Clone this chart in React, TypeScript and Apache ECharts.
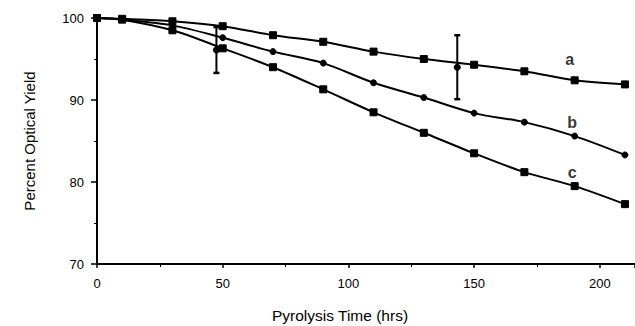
import React, { useEffect, useRef } from "react";
import * as echarts from "echarts";

const times = [0, 10, 30, 50, 70, 90, 110, 130, 150, 170, 190, 210];
const seriesA = [100, 99.9, 99.6, 99.0, 97.9, 97.1, 95.9, 95.0, 94.3, 93.5, 92.4, 91.9];
const seriesB = [100, 99.8, 99.1, 97.6, 95.9, 94.5, 92.1, 90.3, 88.4, 87.3, 85.6, 83.3];
const seriesC = [100, 99.8, 98.5, 96.3, 94.0, 91.3, 88.5, 86.0, 83.5, 81.2, 79.5, 77.3];
// [time, value, half-range]
const errorBars = [
  [47.5, 96.1, 2.8],
  [143.3, 94.0, 3.9],
];
// curve labels [time, value, text]
const curveLabels = [
  [188, 94.9, "a"],
  [189, 87.3, "b"],
  [189, 81.2, "c"],
];
const xTicks = { min: 0, max: 214, interval: 50 };
const yTicks = { min: 70, max: 100, interval: 10 };
const xTitle = "Pyrolysis Time (hrs)";
const yTitle = "Percent Optical Yield";

const FONT = "Liberation Sans, Arial, sans-serif";

export default function App() {
  const ref = useRef<HTMLDivElement>(null);
  useEffect(() => {
    if (!ref.current) return;
    document.body.style.margin = "0";
    const chart = echarts.init(ref.current, undefined, { renderer: "svg" });
    const mk = (vals: number[]) => times.map((t, i) => [t, vals[i]]);
    const lineSeries = (name: string, vals: number[], symbol: string, size: number) => ({
      name,
      type: "line",
      data: mk(vals),
      smooth: 0.3,
      symbol,
      symbolSize: size,
      showSymbol: true,
      lineStyle: { color: "#000", width: 2 },
      itemStyle: { color: "#000", borderColor: "#000" },
      z: 3,
    });
    chart.setOption({
      animation: false,
      backgroundColor: "#fff",
      grid: { left: 97, right: 0, top: 18, bottom: 62, containLabel: false },
      graphic: [
        {
          type: "text",
          left: 272,
          top: 307,
          style: { text: xTitle, fill: "#000", fontSize: 15.5, fontFamily: FONT },
        },
      ],
      xAxis: {
        type: "value",
        min: xTicks.min,
        max: xTicks.max,
        interval: xTicks.interval,
        axisLine: { lineStyle: { color: "#000", width: 2 } },
        axisTick: { show: true, length: 4, lineStyle: { color: "#000", width: 1.5 } },
        minorTick: { show: true, splitNumber: 2, length: 3, lineStyle: { color: "#000" } },
        splitLine: { show: false },
        axisLabel: {
          color: "#000",
          fontSize: 13,
          fontFamily: FONT,
          margin: 13,
          showMaxLabel: false,
        },
      },
      yAxis: {
        type: "value",
        min: yTicks.min,
        max: yTicks.max,
        interval: yTicks.interval,
        name: yTitle,
        nameLocation: "middle",
        nameRotate: 90,
        nameGap: 60,
        nameTextStyle: { color: "#000", fontSize: 15, fontFamily: FONT },
        axisLine: { show: true, lineStyle: { color: "#000", width: 2 } },
        axisTick: { show: true, length: 6, lineStyle: { color: "#000", width: 1.5 } },
        minorTick: { show: true, splitNumber: 2, length: 3, lineStyle: { color: "#000" } },
        splitLine: { show: false },
        axisLabel: { color: "#000", fontSize: 13, fontFamily: FONT, margin: 13 },
      },
      series: [
        lineSeries("a", seriesA, "rect", 7),
        lineSeries("b", seriesB, "circle", 6),
        lineSeries("c", seriesC, "rect", 7),
        {
          type: "custom",
          data: errorBars,
          encode: { x: 0, y: 1 },
          z: 5,
          renderItem: (_p: any, api: any) => {
            const x = api.value(0);
            const y = api.value(1);
            const e = api.value(2);
            const top = api.coord([x, y + e]);
            const bot = api.coord([x, y - e]);
            const c = api.coord([x, y]);
            return {
              type: "group",
              children: [
                {
                  type: "line",
                  shape: { x1: top[0], y1: top[1], x2: bot[0], y2: bot[1] },
                  style: { stroke: "#000", lineWidth: 2 },
                },
                {
                  type: "line",
                  shape: { x1: top[0] - 3, y1: top[1], x2: top[0] + 3, y2: top[1] },
                  style: { stroke: "#000", lineWidth: 2.5 },
                },
                {
                  type: "line",
                  shape: { x1: bot[0] - 3, y1: bot[1], x2: bot[0] + 3, y2: bot[1] },
                  style: { stroke: "#000", lineWidth: 2.5 },
                },
                {
                  type: "circle",
                  shape: { cx: c[0], cy: c[1], r: 3.5 },
                  style: { fill: "#000" },
                },
              ],
            };
          },
        },
        {
          type: "scatter",
          data: curveLabels.map((d) => ({ value: [d[0], d[1]], name: d[2] })),
          symbolSize: 0,
          z: 6,
          label: {
            show: true,
            position: "inside",
            formatter: (p: any) => p.name,
            color: "#000",
            fontSize: 16,
            fontWeight: "bold",
            fontFamily: FONT,
          },
        },
      ],
    });
    return () => chart.dispose();
  }, []);
  return <div ref={ref} style={{ width: 635, height: 326 }} />;
}
